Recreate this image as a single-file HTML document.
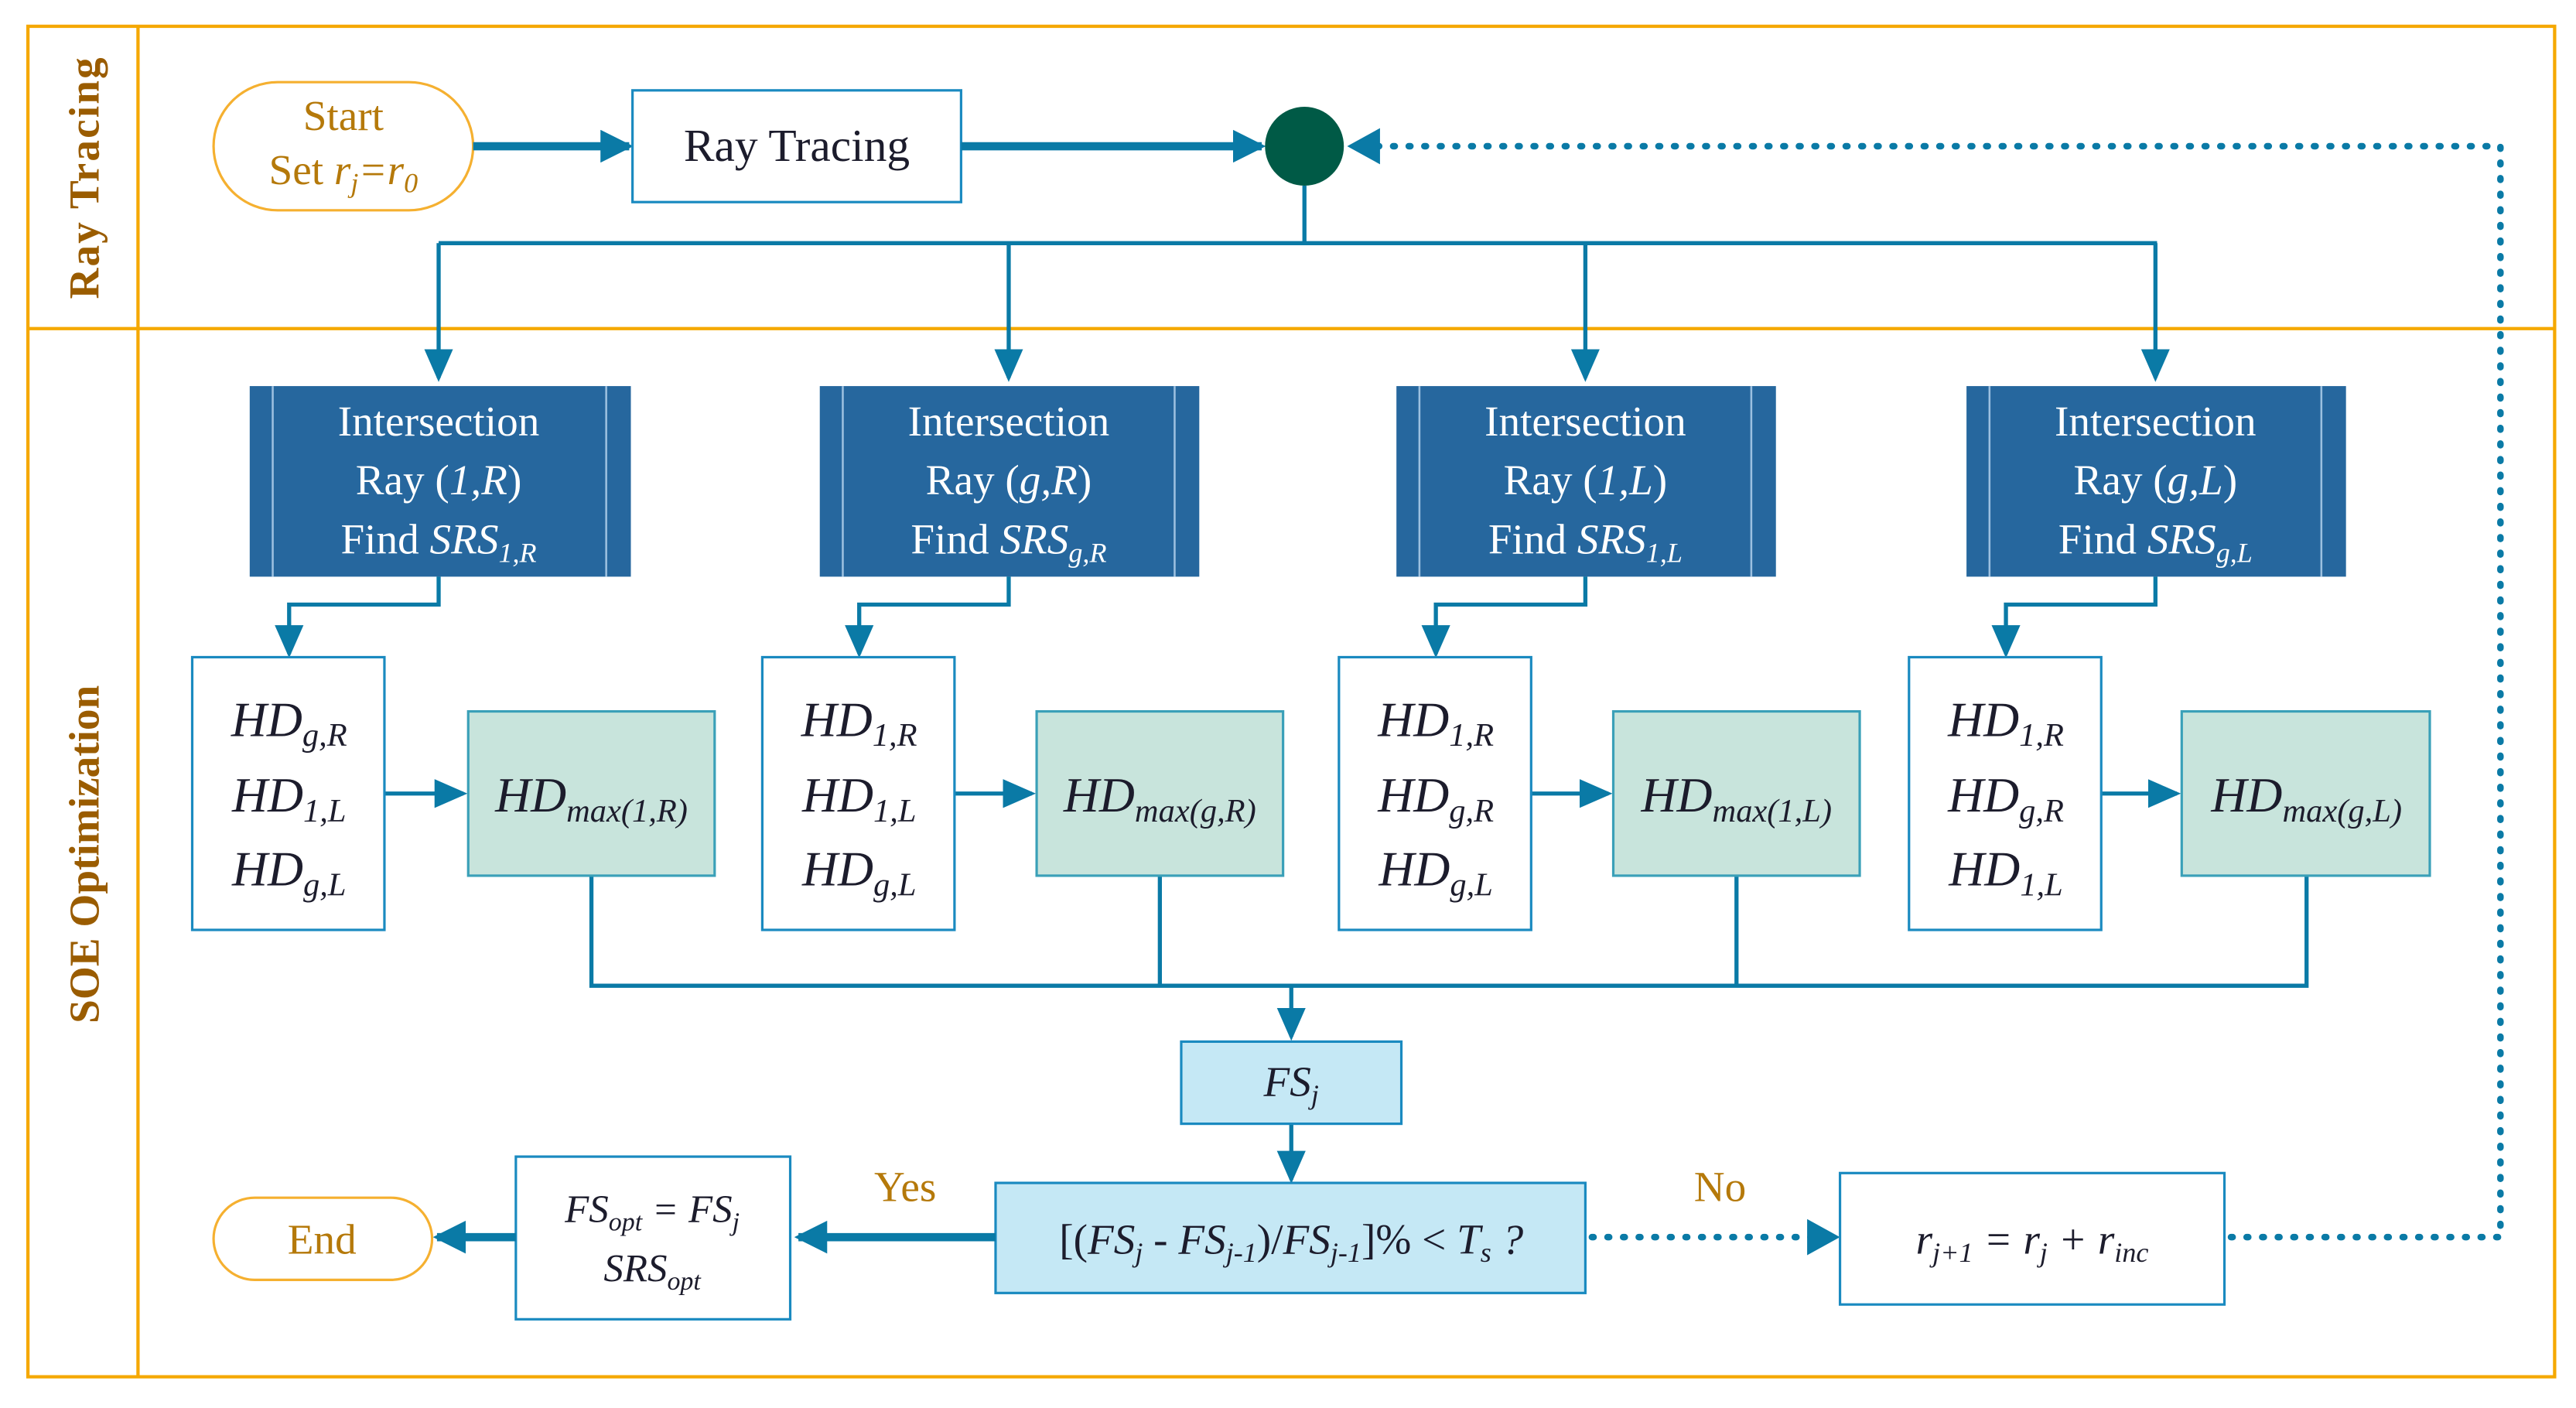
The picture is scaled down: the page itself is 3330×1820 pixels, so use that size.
<!DOCTYPE html>
<html><head><meta charset="utf-8"><style>
html,body{margin:0;padding:0;background:#fff;}
svg{display:block;}
text{font-family:"Liberation Serif",serif;}
.t{fill:#1c1c2c;}
.w{fill:#fff;}
.o{fill:#b5790a;}
.i{font-style:italic;}
</style></head><body>
<svg width="3330" height="1820" viewBox="0 0 1568 857" preserveAspectRatio="none" xmlns="http://www.w3.org/2000/svg">
<defs>
<marker id="a" markerWidth="4" markerHeight="4" refX="3.5" refY="2" orient="auto" markerUnits="strokeWidth"><path d="M0,0 L4,2 L0,4z" fill="#0a7aa6"/></marker>
<marker id="s" markerWidth="8" markerHeight="8" refX="7" refY="4" orient="auto" markerUnits="strokeWidth"><path d="M0,0.5 L8,4 L0,7.5z" fill="#0a7aa6"/></marker>
<marker id="d" markerWidth="20" markerHeight="22" refX="18" refY="11" orient="auto" markerUnits="userSpaceOnUse"><path d="M0,0 L20,11 L0,22z" fill="#0a7aa6"/></marker>
</defs>
<!-- frame -->
<g fill="none" stroke="#f5a800" stroke-width="2">
<rect x="17" y="16" width="1538" height="822"/>
<line x1="84" y1="16" x2="84" y2="838"/>
<line x1="17" y1="200" x2="1555" y2="200"/>
</g>
<text transform="translate(60,108) rotate(-90)" text-anchor="middle" font-size="26" font-weight="bold" fill="#9a5c00" letter-spacing="1">Ray Tracing</text>
<text transform="translate(60,520) rotate(-90)" text-anchor="middle" font-size="26" font-weight="bold" fill="#9a5c00">SOE Optimization</text>

<!-- start -->
<rect x="130" y="50" width="158" height="78" rx="39" fill="#fff" stroke="#f5b030" stroke-width="1.5"/>
<text x="209" y="79" text-anchor="middle" font-size="26" class="o">Start</text>
<text x="209" y="112" text-anchor="middle" font-size="26" class="o">Set <tspan class="i">r<tspan font-size="17" dy="5">j</tspan><tspan dy="-5">=r</tspan><tspan font-size="17" dy="5">0</tspan></tspan></text>
<line x1="288" y1="89" x2="383" y2="89" stroke="#0a7aa6" stroke-width="5" marker-end="url(#a)"/>
<rect x="385" y="55" width="200" height="68" fill="#fff" stroke="#1a8ac0" stroke-width="1.5"/>
<text x="485" y="98" text-anchor="middle" font-size="28" class="t">Ray Tracing</text>
<line x1="585" y1="89" x2="768" y2="89" stroke="#0a7aa6" stroke-width="5" marker-end="url(#a)"/>
<circle cx="794" cy="89" r="24" fill="#005a46"/>
<!-- dashed loop -->
<path d="M1358,753 L1522,753 L1522,89 L822,89" fill="none" stroke="#0a7aa6" stroke-width="4" stroke-linecap="round" stroke-dasharray="1,8.5" marker-end="url(#d)"/>
<!-- branches -->
<g fill="none" stroke="#0a7aa6" stroke-width="2.5">
<path d="M794,113 V148"/><path d="M267,148 H1313"/>
<path d="M267,148 V230" marker-end="url(#s)"/>
<path d="M614,148 V230" marker-end="url(#s)"/>
<path d="M965,148 V230" marker-end="url(#s)"/>
<path d="M1312,148 V230" marker-end="url(#s)"/>
</g>
<!-- blue boxes -->
<g>
<rect x="152" y="235" width="232" height="116" fill="#26679e"/>
<rect x="499" y="235" width="231" height="116" fill="#26679e"/>
<rect x="850" y="235" width="231" height="116" fill="#26679e"/>
<rect x="1197" y="235" width="231" height="116" fill="#26679e"/>
</g>
<g stroke="#9cc0e0" stroke-width="1.2">
<line x1="166" y1="235" x2="166" y2="351"/><line x1="369" y1="235" x2="369" y2="351"/>
<line x1="513" y1="235" x2="513" y2="351"/><line x1="715" y1="235" x2="715" y2="351"/>
<line x1="864" y1="235" x2="864" y2="351"/><line x1="1066" y1="235" x2="1066" y2="351"/>
<line x1="1211" y1="235" x2="1211" y2="351"/><line x1="1413" y1="235" x2="1413" y2="351"/>
</g>
<g font-size="26" class="w" text-anchor="middle">
<text x="267" y="265">Intersection</text><text x="267" y="301">Ray (<tspan class="i">1,R</tspan>)</text><text x="267" y="337">Find <tspan class="i">SRS<tspan font-size="17" dy="5">1,R</tspan></tspan></text>
<text x="614" y="265">Intersection</text><text x="614" y="301">Ray (<tspan class="i">g,R</tspan>)</text><text x="614" y="337">Find <tspan class="i">SRS<tspan font-size="17" dy="5">g,R</tspan></tspan></text>
<text x="965" y="265">Intersection</text><text x="965" y="301">Ray (<tspan class="i">1,L</tspan>)</text><text x="965" y="337">Find <tspan class="i">SRS<tspan font-size="17" dy="5">1,L</tspan></tspan></text>
<text x="1312" y="265">Intersection</text><text x="1312" y="301">Ray (<tspan class="i">g,L</tspan>)</text><text x="1312" y="337">Find <tspan class="i">SRS<tspan font-size="17" dy="5">g,L</tspan></tspan></text>
</g>
<!-- connectors to HD boxes -->
<g fill="none" stroke="#0a7aa6" stroke-width="2.5">
<path d="M267,351 V368 H176 V398" marker-end="url(#s)"/>
<path d="M614,351 V368 H523 V398" marker-end="url(#s)"/>
<path d="M965,351 V368 H874 V398" marker-end="url(#s)"/>
<path d="M1312,351 V368 H1221 V398" marker-end="url(#s)"/>
<path d="M234,483 H282" marker-end="url(#s)"/>
<path d="M581,483 H628" marker-end="url(#s)"/>
<path d="M932,483 H979" marker-end="url(#s)"/>
<path d="M1279,483 H1325" marker-end="url(#s)"/>
<path d="M360,533 V600 H1404 V533"/>
<path d="M706,533 V600"/><path d="M1057,533 V600"/>
<path d="M786,600 V631" marker-end="url(#s)"/>
<path d="M786,684 V718" marker-end="url(#s)"/>
</g>
<!-- HD boxes -->
<g fill="#fff" stroke="#1a8ac0" stroke-width="1.5">
<rect x="117" y="400" width="117" height="166"/>
<rect x="464" y="400" width="117" height="166"/>
<rect x="815" y="400" width="117" height="166"/>
<rect x="1162" y="400" width="117" height="166"/>
</g>
<g fill="#c8e4dc" stroke="#3aa0b8" stroke-width="1.5">
<rect x="285" y="433" width="150" height="100"/>
<rect x="631" y="433" width="150" height="100"/>
<rect x="982" y="433" width="150" height="100"/>
<rect x="1328" y="433" width="151" height="100"/>
</g>
<g font-size="30" class="t i" text-anchor="middle">
<text x="176" y="448">HD<tspan font-size="20" dy="6">g,R</tspan></text>
<text x="176" y="494">HD<tspan font-size="20" dy="6">1,L</tspan></text>
<text x="176" y="539">HD<tspan font-size="20" dy="6">g,L</tspan></text>
<text x="523" y="448">HD<tspan font-size="20" dy="6">1,R</tspan></text>
<text x="523" y="494">HD<tspan font-size="20" dy="6">1,L</tspan></text>
<text x="523" y="539">HD<tspan font-size="20" dy="6">g,L</tspan></text>
<text x="874" y="448">HD<tspan font-size="20" dy="6">1,R</tspan></text>
<text x="874" y="494">HD<tspan font-size="20" dy="6">g,R</tspan></text>
<text x="874" y="539">HD<tspan font-size="20" dy="6">g,L</tspan></text>
<text x="1221" y="448">HD<tspan font-size="20" dy="6">1,R</tspan></text>
<text x="1221" y="494">HD<tspan font-size="20" dy="6">g,R</tspan></text>
<text x="1221" y="539">HD<tspan font-size="20" dy="6">1,L</tspan></text>
<text x="360" y="494">HD<tspan font-size="20" dy="6">max(1,R)</tspan></text>
<text x="706" y="494">HD<tspan font-size="20" dy="6">max(g,R)</tspan></text>
<text x="1057" y="494">HD<tspan font-size="20" dy="6">max(1,L)</tspan></text>
<text x="1404" y="494">HD<tspan font-size="20" dy="6">max(g,L)</tspan></text>
</g>
<!-- FS -->
<rect x="719" y="634" width="134" height="50" fill="#c5e8f5" stroke="#1a8ac0" stroke-width="1.5"/>
<text x="786" y="667" text-anchor="middle" font-size="26" class="t i">FS<tspan font-size="17" dy="5">j</tspan></text>
<rect x="606" y="720" width="359" height="67" fill="#c5e8f5" stroke="#1a8ac0" stroke-width="1.5"/>
<text x="786" y="763" text-anchor="middle" font-size="26" class="t">[(<tspan class="i">FS</tspan><tspan class="i" font-size="17" dy="5">j</tspan><tspan dy="-5"> - </tspan><tspan class="i">FS</tspan><tspan class="i" font-size="17" dy="5">j-1</tspan><tspan dy="-5">)/</tspan><tspan class="i">FS</tspan><tspan class="i" font-size="17" dy="5">j-1</tspan><tspan dy="-5">]% &lt; </tspan><tspan class="i">T</tspan><tspan class="i" font-size="17" dy="5">s</tspan><tspan dy="-5" class="i"> ?</tspan></text>
<!-- yes -->
<line x1="606" y1="753" x2="486" y2="753" stroke="#0a7aa6" stroke-width="5" marker-end="url(#a)"/>
<text x="551" y="731" text-anchor="middle" font-size="26" class="o">Yes</text>
<rect x="314" y="704" width="167" height="99" fill="#fff" stroke="#1a8ac0" stroke-width="1.5"/>
<text x="397" y="744" text-anchor="middle" font-size="24" class="t i">FS<tspan font-size="16" dy="5">opt</tspan><tspan dy="-5"> = FS</tspan><tspan font-size="16" dy="5">j</tspan></text>
<text x="397" y="780" text-anchor="middle" font-size="24" class="t i">SRS<tspan font-size="16" dy="5">opt</tspan></text>
<line x1="314" y1="753" x2="266" y2="753" stroke="#0a7aa6" stroke-width="5" marker-end="url(#a)"/>
<rect x="130" y="729" width="133" height="50" rx="25" fill="#fff" stroke="#f5b030" stroke-width="1.5"/>
<text x="196" y="763" text-anchor="middle" font-size="26" class="o">End</text>
<!-- no -->
<line x1="969" y1="753" x2="1118" y2="753" stroke="#0a7aa6" stroke-width="4" stroke-linecap="round" stroke-dasharray="1,8.5" marker-end="url(#d)"/>
<text x="1047" y="731" text-anchor="middle" font-size="26" class="o">No</text>
<rect x="1120" y="714" width="234" height="80" fill="#fff" stroke="#1a8ac0" stroke-width="1.5"/>
<text x="1237" y="763" text-anchor="middle" font-size="26" class="t i">r<tspan font-size="17" dy="5">j+1</tspan><tspan dy="-5"> = r</tspan><tspan font-size="17" dy="5">j</tspan><tspan dy="-5"> + r</tspan><tspan font-size="17" dy="5">inc</tspan></text>
</svg>
</body></html>
